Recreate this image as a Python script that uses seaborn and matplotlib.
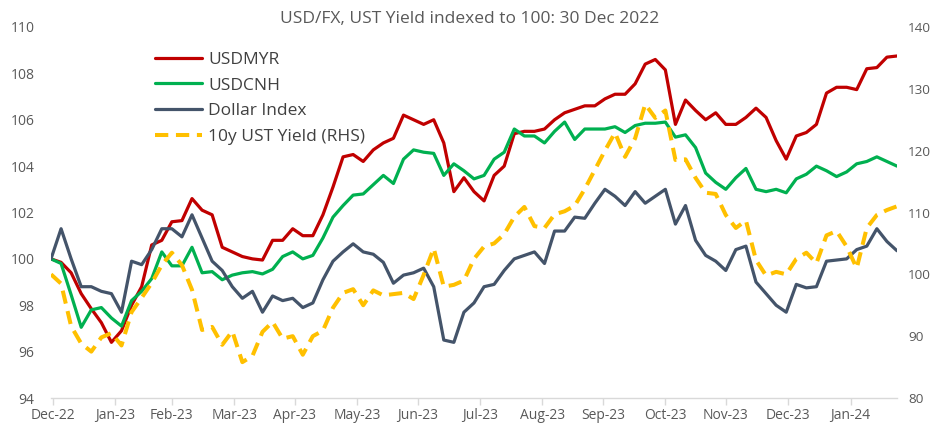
import numpy as np
import pandas as pd
import matplotlib
matplotlib.use("Agg")
import matplotlib.pyplot as plt
import seaborn as sns

# ---------------- data ----------------
start_date = "2022-12-30"
step = "5D"

usdmyr = [100.0, 99.85, 99.4, 98.5, 97.85, 97.25, 96.4, 96.9, 98.0, 98.8,
          100.6, 100.8, 101.6, 101.65, 102.6, 102.1, 101.9, 100.5, 100.3, 100.1,
          100.0, 99.95, 100.8, 100.8, 101.3, 101.0, 101.0, 101.9, 103.1, 104.4,
          104.5, 104.2, 104.7, 105.0, 105.2, 106.2, 106.0, 105.8, 106.0, 105.0,
          102.9, 103.5, 102.9, 102.5, 103.6, 104.0, 105.4, 105.5, 105.5, 105.6,
          106.0, 106.3, 106.45, 106.6, 106.6, 106.9, 107.1, 107.1, 107.55, 108.4,
          108.6, 108.15, 105.8, 106.85, 106.4, 106.0, 106.3, 105.8, 105.8, 106.1,
          106.5, 106.1, 105.1, 104.3, 105.3, 105.45, 105.8, 107.15, 107.4, 107.4,
          107.3, 108.2, 108.25, 108.7, 108.75]

usdcnh = [100.0, 99.8, 98.45, 97.05, 97.8, 97.9, 97.45, 97.1, 98.2, 98.6,
          99.15, 100.3, 99.7, 99.7, 100.5, 99.4, 99.45, 99.1, 99.3, 99.4,
          99.45, 99.35, 99.55, 100.1, 100.3, 100.0, 100.15, 100.9, 101.8, 102.3,
          102.75, 102.8, 103.2, 103.6, 103.25, 104.3, 104.7, 104.6, 104.55, 103.6,
          104.1, 103.8, 103.45, 103.6, 104.3, 104.6, 105.6, 105.3, 105.3, 105.0,
          105.5, 105.9, 105.15, 105.6, 105.6, 105.6, 105.7, 105.45, 105.75, 105.85,
          105.85, 105.9, 105.25, 105.35, 104.8, 103.7, 103.3, 103.0, 103.5, 103.9,
          103.0, 102.9, 103.0, 102.85, 103.45, 103.65, 104.0, 103.8, 103.55, 103.75,
          104.1, 104.2, 104.4, 104.2, 104.0]

dollar_index = [100.0, 101.3, 100.0, 98.8, 98.8, 98.6, 98.5, 97.7, 99.9, 99.75,
                100.4, 101.3, 101.3, 100.95, 101.9, 100.9, 99.9, 99.5, 98.8, 98.3,
                98.6, 97.7, 98.4, 98.2, 98.3, 97.9, 98.1, 99.1, 99.9, 100.3,
                100.65, 100.3, 100.2, 99.85, 98.95, 99.3, 99.4, 99.6, 98.8, 96.5,
                96.4, 97.7, 98.1, 98.8, 98.9, 99.5, 100.0, 100.15, 100.3, 99.8,
                101.2, 101.2, 101.8, 101.75, 102.4, 103.0, 102.7, 102.3, 102.9, 102.4,
                102.7, 103.0, 101.5, 102.3, 100.8, 100.15, 99.9, 99.5, 100.4, 100.55,
                99.0, 98.5, 98.0, 97.7, 98.9, 98.75, 98.8, 99.9, 99.95, 100.0,
                100.4, 100.55, 101.3, 100.75, 100.35]

ust10y = [100.0, 98.5, 91.6, 88.8, 87.5, 89.8, 90.5, 88.5, 93.9, 96.2,
          98.6, 101.5, 103.5, 101.5, 97.5, 91.0, 91.5, 88.6, 90.8, 85.8,
          86.8, 90.7, 92.3, 89.6, 90.0, 87.0, 90.0, 90.9, 94.6, 97.0,
          97.6, 95.0, 97.4, 96.6, 96.8, 97.0, 96.0, 99.9, 104.2, 98.0,
          98.3, 99.0, 102.5, 104.5, 105.0, 106.5, 109.3, 110.9, 107.8, 107.5,
          109.7, 110.2, 111.1, 113.8, 116.9, 120.0, 122.9, 119.0, 122.0, 127.5,
          125.3, 126.5, 118.5, 118.6, 115.6, 113.2, 113.0, 109.6, 107.5, 108.7,
          102.3, 99.8, 100.4, 100.0, 102.5, 103.5, 101.8, 106.3, 107.0, 104.5,
          101.0, 107.5, 109.6, 110.4, 111.0]

series_names = ["USDMYR", "USDCNH", "Dollar Index", "10y UST Yield (RHS)"]
tick_labels = ["Dec-22", "Jan-23", "Feb-23", "Mar-23", "Apr-23", "May-23", "Jun-23",
               "Jul-23", "Aug-23", "Sep-23", "Oct-23", "Nov-23", "Dec-23", "Jan-24"]
left_ticks = [94, 96, 98, 100, 102, 104, 106, 108, 110]
right_ticks = [80, 90, 100, 110, 120, 130, 140]
title = "USD/FX, UST Yield indexed to 100: 30 Dec 2022"

# ---------------- styling ----------------
sns.set_theme(style="white")
plt.rcParams["font.family"] = ["Open Sans", "DejaVu Sans"]

colors = ["#C00000", "#00B050", "#44546A", "#FFC000"]
text_grey = "#595959"

dates = pd.date_range(start_date, periods=len(usdmyr), freq=step)
df = pd.DataFrame({"date": dates,
                   series_names[0]: usdmyr,
                   series_names[1]: usdcnh,
                   series_names[2]: dollar_index,
                   series_names[3]: ust10y})

W, H = 934, 425
fig = plt.figure(figsize=(W / 100, H / 100), dpi=100)
ax = fig.add_axes([51 / W, 27 / H, 846 / W, 371 / H])
ax2 = ax.twinx()

for name, c in zip(series_names[:3], colors[:3]):
    sns.lineplot(data=df, x="date", y=name, ax=ax, color=c, linewidth=2.3,
                 label=name, legend=False)
sns.lineplot(data=df, x="date", y=series_names[3], ax=ax2, color=colors[3],
             linewidth=2.9, label=series_names[3], legend=False)
for ln in ax2.get_lines():
    ln.set_linestyle((0, (3.3, 1.9)))

ax.set_xlim(dates[0], dates[-1])
ax.set_ylim(left_ticks[0], left_ticks[-1])
ax2.set_ylim(right_ticks[0], right_ticks[-1])
ax.set_yticks(left_ticks)
ax.set_yticklabels([str(v) for v in left_ticks])
ax2.set_yticks(right_ticks)
ax2.set_yticklabels([str(v) for v in right_ticks])

tick_dates = pd.date_range("2022-12-31", periods=len(tick_labels), freq="ME")
ax.set_xticks(tick_dates)
ax.set_xticklabels(tick_labels)

ax.set_xlabel("")
ax.set_ylabel("")
ax2.set_ylabel("")

for a in (ax, ax2):
    for s in ("left", "right", "top"):
        a.spines[s].set_visible(False)
ax2.spines["bottom"].set_visible(False)
ax.spines["bottom"].set_color("#D9D9D9")
ax.spines["bottom"].set_linewidth(1.0)

ax.tick_params(axis="x", bottom=True, length=5, width=1, color="#D9D9D9",
               pad=2.5, labelsize=10, labelcolor=text_grey)
ax.tick_params(axis="y", left=False, length=0, pad=12, labelsize=10,
               labelcolor=text_grey)
ax2.tick_params(axis="y", right=False, length=0, pad=8, labelsize=9.7,
                labelcolor=text_grey)
ax.grid(False)
ax2.grid(False)

fig.suptitle(title, x=0.503, y=0.975, fontsize=12.5, color=text_grey)

handles = list(ax.get_lines()) + list(ax2.get_lines())
leg = ax2.legend(handles, series_names, loc="upper left",
                 bbox_to_anchor=(0.123, 0.934), frameon=False, fontsize=12.5,
                 borderpad=0, borderaxespad=0, labelspacing=0.56,
                 handlelength=2.7, handletextpad=0.35)
for t in leg.get_texts():
    t.set_color("#404040")

fig.savefig("out.png", dpi=100)
